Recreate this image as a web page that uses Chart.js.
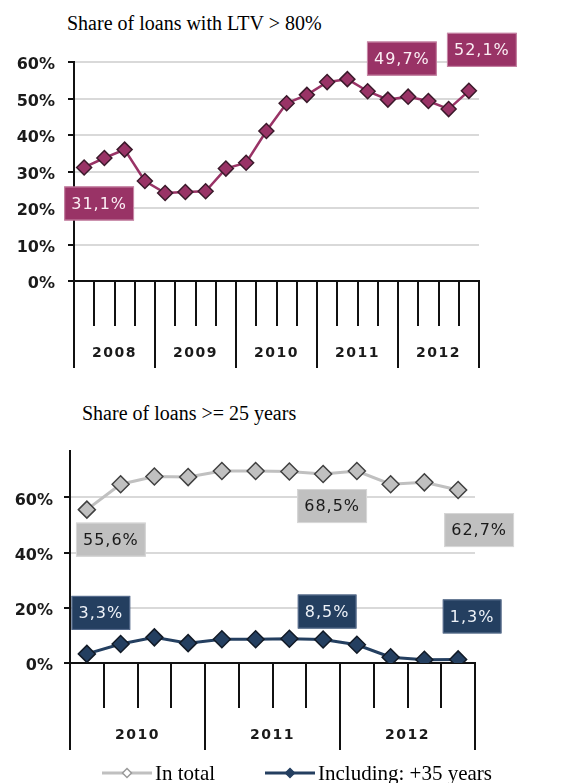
<!DOCTYPE html>
<html>
<head>
<meta charset="utf-8">
<script src="https://cdn.jsdelivr.net/npm/chart.js@4"></script>
<style>
  body { margin: 0; background: #fff; width: 564px; height: 783px; position: relative; overflow: hidden; }
  .titre { position: absolute; font-family: "Liberation Serif", serif; font-size: 20px; line-height: 20px; color: #000; white-space: nowrap; }
  canvas { position: absolute; left: 0; }
</style>
</head>
<body>
<div class="titre" style="left:67px; top:13px;">Share of loans with LTV &gt; 80%</div>
<canvas id="chartLtv" width="564" height="380" style="top:0px;"></canvas>
<div class="titre" style="left:82px; top:403px;">Share of loans &gt;= 25 years</div>
<canvas id="chartDuree" width="564" height="353" style="top:430px;"></canvas>
<script>
// ---------------- données ----------------
const trimestresLtv = ['2008 T1','2008 T2','2008 T3','2008 T4','2009 T1','2009 T2','2009 T3','2009 T4',
                       '2010 T1','2010 T2','2010 T3','2010 T4','2011 T1','2011 T2','2011 T3','2011 T4',
                       '2012 T1','2012 T2','2012 T3','2012 T4'];
const anneesLtv = ['2008', '2009', '2010', '2011', '2012'];
const partLtv = [31.1, 33.7, 36.0, 27.4, 24.1, 24.4, 24.6, 30.8, 32.4, 41.1,
                 48.7, 51.0, 54.5, 55.3, 52.0, 49.7, 50.5, 49.3, 47.1, 52.1];
const etiquettesLtv = [0, 15, 19];

const trimestresDuree = ['2010 T1','2010 T2','2010 T3','2010 T4','2011 T1','2011 T2','2011 T3','2011 T4',
                         '2012 T1','2012 T2','2012 T3','2012 T4'];
const anneesDuree = ['2010', '2011', '2012'];
const partTotal = [55.6, 64.8, 67.6, 67.4, 69.6, 69.6, 69.4, 68.5, 69.6, 64.8, 65.5, 62.7];
const partPlus35 = [3.3, 6.9, 9.3, 7.2, 8.6, 8.6, 8.8, 8.5, 6.6, 2.1, 1.2, 1.3];
const etiquettesTotal = [0, 7, 11];
const etiquettesPlus35 = [0, 7, 11];

// ---------------- plugins ----------------
// étiquettes en boîte sur certains points
const boitesValeurs = {
    id: 'boitesValeurs',
    afterDatasetsDraw(chart, args, opts) {
        const ctx = chart.ctx;
        (opts.series || []).forEach(s => {
            const meta = chart.getDatasetMeta(s.dataset);
            const valeurs = chart.data.datasets[s.dataset].data;
            s.indices.forEach((i, k) => {
                const pt = meta.data[i];
                const dec = s.decalages[k];
                const texte = valeurs[i].toFixed(1).replace('.', ',') + '%';
                ctx.save();
                ctx.font = '16px "DejaVu Sans"';
                ctx.letterSpacing = '1px';
                const w = ctx.measureText(texte).width + 14;
                const h = 34;
                const cx = pt.x + dec.dx, cy = pt.y + dec.dy;
                ctx.fillStyle = s.fond;
                ctx.fillRect(cx - w / 2, cy - h / 2, w, h);
                ctx.strokeStyle = s.bord;
                ctx.lineWidth = 1;
                ctx.strokeRect(cx - w / 2 + 0.5, cy - h / 2 + 0.5, w - 1, h - 1);
                ctx.fillStyle = s.couleur;
                ctx.textAlign = 'center';
                ctx.textBaseline = 'middle';
                ctx.fillText(texte, cx, cy + 1);
                ctx.restore();
            });
        });
    }
};

// graduations trimestrielles + années sous l'axe
const axeTrimestres = {
    id: 'axeTrimestres',
    afterDraw(chart, args, opts) {
        const x = chart.scales.x;
        const ctx = chart.ctx;
        const n = chart.data.labels.length;
        const pas = x.getPixelForValue(1) - x.getPixelForValue(0);
        const haut = chart.chartArea.bottom;
        ctx.save();
        ctx.strokeStyle = '#111';
        ctx.lineWidth = 2;
        for (let i = 0; i <= n; i++) {
            const px = Math.round(x.getPixelForValue(0) - pas / 2 + i * pas);
            const long = i % 4 === 0;
            ctx.beginPath();
            ctx.moveTo(px, haut);
            ctx.lineTo(px, haut + (long ? 87 : 45));
            ctx.stroke();
        }
        ctx.font = 'bold 14px "DejaVu Sans"';
        ctx.letterSpacing = '1.5px';
        ctx.fillStyle = '#1a1a1a';
        ctx.textAlign = 'center';
        ctx.textBaseline = 'middle';
        opts.annees.forEach((a, k) => {
            const px = (x.getPixelForValue(k * 4) + x.getPixelForValue(k * 4 + 3)) / 2;
            ctx.fillText(a, px, haut + 72);
        });
        ctx.restore();
    }
};

// légende ligne + losange
const legendeLignes = {
    id: 'legendeLignes',
    afterDraw(chart, args, opts) {
        const ctx = chart.ctx;
        (opts.items || []).forEach((it, k) => {
            const ds = chart.data.datasets[k];
            ctx.save();
            ctx.strokeStyle = ds.borderColor;
            ctx.lineWidth = 3;
            ctx.beginPath();
            ctx.moveTo(it.x, it.y);
            ctx.lineTo(it.x + 50, it.y);
            ctx.stroke();
            const cx = it.x + 25, r = 4.5;
            ctx.beginPath();
            ctx.moveTo(cx, it.y - r); ctx.lineTo(cx + r, it.y); ctx.lineTo(cx, it.y + r); ctx.lineTo(cx - r, it.y);
            ctx.closePath();
            ctx.fillStyle = it.remplissage;
            ctx.fill();
            ctx.lineWidth = 1.5;
            ctx.strokeStyle = it.contour;
            ctx.stroke();
            ctx.font = '21px "Liberation Serif"';
            ctx.fillStyle = '#000';
            ctx.textBaseline = 'alphabetic';
            ctx.fillText(ds.label, it.x + 53, it.y + 7);
            ctx.restore();
        });
    }
};

function axeY(max, pas, largeur, padding) {
    return {
        min: 0,
        max: max,
        afterFit: s => { s.width = largeur; },
        afterBuildTicks: s => { s.ticks = s.ticks.filter(t => t.value % pas === 0); },
        ticks: {
            stepSize: pas,
            padding: padding,
            labelOffset: 3,
            color: '#1a1a1a',
            font: { family: 'DejaVu Sans', weight: 'bold', size: 16 },
            callback: v => v + '%'
        },
        grid: { color: '#d9d9d9', lineWidth: 2, tickLength: 6, tickColor: '#111', tickWidth: 2 },
        border: { color: '#111', width: 2 }
    };
}

function axeX(hauteur) {
    return {
        offset: true,
        afterFit: s => { s.height = hauteur; },
        ticks: { display: false },
        grid: { display: false },
        border: { color: '#111', width: 2 }
    };
}

// ---------------- graphique 1 ----------------
new Chart(document.getElementById('chartLtv'), {
    type: 'line',
    data: {
        labels: trimestresLtv,
        datasets: [{
            label: 'Share of loans with LTV > 80%',
            data: partLtv,
            borderColor: '#993366',
            borderWidth: 2.5,
            pointStyle: 'rectRot',
            pointRadius: 7.5,
            pointBackgroundColor: '#993366',
            pointBorderColor: '#3b1a2b',
            pointBorderWidth: 1.5,
            tension: 0
        }]
    },
    options: {
        responsive: false,
        animation: false,
        layout: { padding: { top: 62, right: 85, left: 0, bottom: 0 } },
        scales: { x: axeX(99), y: axeY(60, 10, 74, 13) },
        plugins: {
            legend: { display: false },
            tooltip: { enabled: false },
            boitesValeurs: {
                series: [{
                    dataset: 0, indices: etiquettesLtv,
                    decalages: [{ dx: 15, dy: 36 }, { dx: 14, dy: -41 }, { dx: 13, dy: -41 }],
                    fond: '#993366', bord: '#c98aa8', couleur: '#fbeef4'
                }]
            },
            axeTrimestres: { annees: anneesLtv }
        }
    },
    plugins: [boitesValeurs, axeTrimestres]
});

// ---------------- graphique 2 ----------------
new Chart(document.getElementById('chartDuree'), {
    type: 'line',
    data: {
        labels: trimestresDuree,
        datasets: [{
            label: 'In total',
            data: partTotal,
            borderColor: '#c0c0c0',
            borderWidth: 3,
            pointStyle: 'rectRot',
            pointRadius: 8.5,
            pointBackgroundColor: '#c0c0c0',
            pointBorderColor: '#404040',
            pointBorderWidth: 1.5,
            tension: 0
        }, {
            label: 'Including: +35 years',
            data: partPlus35,
            borderColor: '#243f60',
            borderWidth: 3,
            pointStyle: 'rectRot',
            pointRadius: 8.5,
            pointBackgroundColor: '#243f60',
            pointBorderColor: '#111a26',
            pointBorderWidth: 1.5,
            tension: 0
        }]
    },
    options: {
        responsive: false,
        animation: false,
        layout: { padding: { top: 10, right: 89, left: 0, bottom: 0 } },
        scales: { x: axeX(120), y: axeY(77, 20, 70, 11) },
        plugins: {
            legend: { display: false },
            tooltip: { enabled: false },
            boitesValeurs: {
                series: [{
                    dataset: 0, indices: etiquettesTotal,
                    decalages: [{ dx: 24, dy: 30 }, { dx: 9, dy: 32 }, { dx: 21, dy: 40 }],
                    fond: '#c0c0c0', bord: '#d8d8d8', couleur: '#1a1a1a'
                }, {
                    dataset: 1, indices: etiquettesPlus35,
                    decalages: [{ dx: 14, dy: -41 }, { dx: 4, dy: -28 }, { dx: 14, dy: -43 }],
                    fond: '#243f60', bord: '#5b7090', couleur: '#eef2f8'
                }]
            },
            axeTrimestres: { annees: anneesDuree },
            legendeLignes: {
                items: [
                    { x: 102, y: 343, remplissage: '#ffffff', contour: '#9a9a9a' },
                    { x: 265, y: 343, remplissage: '#243f60', contour: '#243f60' }
                ]
            }
        }
    },
    plugins: [boitesValeurs, axeTrimestres, legendeLignes]
});
</script>
</body>
</html>
